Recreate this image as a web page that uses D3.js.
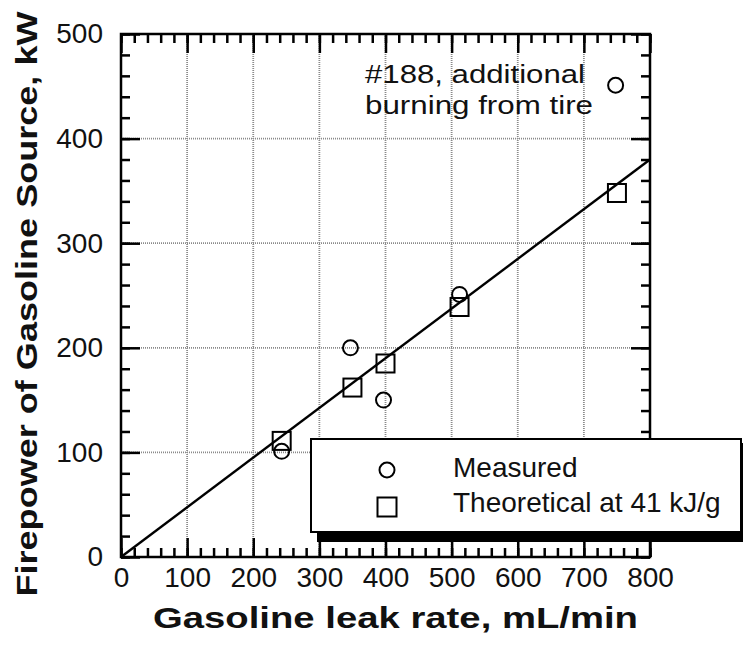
<!DOCTYPE html>
<html>
<head>
<meta charset="utf-8">
<script src="https://cdn.jsdelivr.net/npm/d3@7/dist/d3.min.js"></script>
<style>
  html, body { margin: 0; padding: 0; background: #fff; }
  svg { display: block; }
  text { font-family: "Liberation Sans", Arial, Helvetica, sans-serif; }
</style>
</head>
<body>
<svg id="chart" width="743" height="645"></svg>
<script>
// ---- data ----
const measuredX = [243, 347, 397, 512, 748];
const measuredY = [101, 200, 150, 251, 451];
const theoreticalX = [243, 350, 400, 512, 750];
const theoreticalY = [111, 162, 185, 239, 348];
const fitX = [0, 800];
const fitY = [0, 380];
const xTicks = [0, 100, 200, 300, 400, 500, 600, 700, 800];
const yTicks = [0, 100, 200, 300, 400, 500];
const xTitle = "Gasoline leak rate, mL/min";
const yTitle = "Firepower of Gasoline Source, kW";
const noteLines = ["#188, additional", "burning from tire"];
const legendLabels = ["Measured", "Theoretical at 41 kJ/g"];

// ---- layout ----
const svg = d3.select("#chart");
const L = 121, R = 650, T = 34, B = 557;
const x = d3.scaleLinear().domain([0, 800]).range([L, R]);
const y = d3.scaleLinear().domain([0, 500]).range([B, T]);

// gridlines
const grid = svg.append("g").attr("stroke", "#8a8a8a").attr("stroke-width", 1.8)
  .attr("stroke-dasharray", "1,1").attr("fill", "none");
grid.selectAll(".gx").data(xTicks.filter(d => d > 0 && d < 800)).enter().append("line")
  .attr("x1", d => x(d)).attr("x2", d => x(d)).attr("y1", T).attr("y2", B);
grid.selectAll(".gy").data(yTicks.filter(d => d > 0 && d < 500)).enter().append("line")
  .attr("y1", d => y(d)).attr("y2", d => y(d)).attr("x1", L).attr("x2", R);

// fit line
svg.append("path")
  .datum(fitX.map((v, i) => [v, fitY[i]]))
  .attr("d", d3.line().x(d => x(d[0])).y(d => y(d[1])))
  .attr("stroke", "#000").attr("stroke-width", 2.4).attr("fill", "none");

// markers
const mData = measuredX.map((v, i) => [v, measuredY[i]]);
const tData = theoreticalX.map((v, i) => [v, theoreticalY[i]]);
svg.append("g").selectAll("circle").data(mData).enter().append("circle")
  .attr("cx", d => x(d[0])).attr("cy", d => y(d[1])).attr("r", 7.5)
  .attr("fill", "none").attr("stroke", "#000").attr("stroke-width", 2);
const sq = 18;
svg.append("g").selectAll("rect").data(tData).enter().append("rect")
  .attr("x", d => x(d[0]) - sq / 2).attr("y", d => y(d[1]) - sq / 2)
  .attr("width", sq).attr("height", sq)
  .attr("fill", "none").attr("stroke", "#000").attr("stroke-width", 2);

// axes (ticks pointing inward)
const minorX = d3.range(0, 801, 20);
const minorY = d3.range(0, 501, 20);
function styleAxis(g) {
  g.select(".domain").remove();
  g.selectAll(".tick line").attr("stroke", "#000").attr("stroke-width", 2.5);
  g.selectAll(".tick text").attr("fill", "#111").style("font-size", "28px");
}
// bottom
svg.append("g").attr("transform", `translate(0,${B})`)
  .call(d3.axisBottom(x).tickValues(minorX).tickFormat("").tickSizeInner(-9).tickSizeOuter(0)).call(styleAxis);
svg.append("g").attr("transform", `translate(0,${B})`)
  .call(d3.axisBottom(x).tickValues(xTicks).tickFormat(d3.format("d")).tickSizeInner(-19).tickSizeOuter(0).tickPadding(10))
  .call(styleAxis);
// top
svg.append("g").attr("transform", `translate(0,${T})`)
  .call(d3.axisTop(x).tickValues(minorX).tickFormat("").tickSizeInner(-9).tickSizeOuter(0)).call(styleAxis);
svg.append("g").attr("transform", `translate(0,${T})`)
  .call(d3.axisTop(x).tickValues(xTicks).tickFormat("").tickSizeInner(-19).tickSizeOuter(0)).call(styleAxis);
// left
svg.append("g").attr("transform", `translate(${L},0)`)
  .call(d3.axisLeft(y).tickValues(minorY).tickFormat("").tickSizeInner(-9).tickSizeOuter(0)).call(styleAxis);
svg.append("g").attr("transform", `translate(${L},0)`)
  .call(d3.axisLeft(y).tickValues(yTicks).tickFormat(d3.format("d")).tickSizeInner(-19).tickSizeOuter(0).tickPadding(18))
  .call(styleAxis);
// right
svg.append("g").attr("transform", `translate(${R},0)`)
  .call(d3.axisRight(y).tickValues(minorY).tickFormat("").tickSizeInner(-9).tickSizeOuter(0)).call(styleAxis);
svg.append("g").attr("transform", `translate(${R},0)`)
  .call(d3.axisRight(y).tickValues(yTicks).tickFormat("").tickSizeInner(-19).tickSizeOuter(0)).call(styleAxis);

// frame
svg.append("rect").attr("x", L).attr("y", T).attr("width", R - L).attr("height", B - T)
  .attr("fill", "none").attr("stroke", "#000").attr("stroke-width", 2.5);

// axis titles
svg.append("text").attr("x", (153 + 638) / 2).attr("y", 628)
  .attr("text-anchor", "middle").attr("textLength", 485).attr("lengthAdjust", "spacingAndGlyphs")
  .style("font-size", "30px").style("font-weight", "bold").attr("fill", "#111").text(xTitle);
svg.append("text").attr("transform", "translate(37,304) rotate(-90)")
  .attr("text-anchor", "middle").attr("textLength", 585).attr("lengthAdjust", "spacingAndGlyphs")
  .style("font-size", "30px").style("font-weight", "bold").attr("fill", "#111").text(yTitle);

// annotation
const noteLens = [220, 228];
svg.append("g").selectAll("text").data(noteLines).enter().append("text")
  .attr("x", 365).attr("y", (d, i) => 83 + i * 31)
  .attr("textLength", (d, i) => noteLens[i]).attr("lengthAdjust", "spacingAndGlyphs")
  .style("font-size", "26px").attr("fill", "#111").text(d => d);

// legend
const lg = svg.append("g");
lg.append("rect").attr("x", 317).attr("y", 443).attr("width", 440).attr("height", 99).attr("fill", "#000");
lg.append("rect").attr("x", 311).attr("y", 439).attr("width", 430).attr("height", 93)
  .attr("fill", "#fff").attr("stroke", "#000").attr("stroke-width", 2);
lg.append("circle").attr("cx", 387).attr("cy", 470).attr("r", 7.5)
  .attr("fill", "none").attr("stroke", "#000").attr("stroke-width", 2);
lg.append("rect").attr("x", 387 - 9.5).attr("y", 507 - 9.5).attr("width", 19).attr("height", 19)
  .attr("fill", "none").attr("stroke", "#000").attr("stroke-width", 2);
lg.selectAll("text.lab").data(legendLabels).enter().append("text")
  .attr("x", 453).attr("y", (d, i) => 477 + i * 35)
  .style("font-size", "28px").attr("fill", "#111").text(d => d);
</script>
</body>
</html>
